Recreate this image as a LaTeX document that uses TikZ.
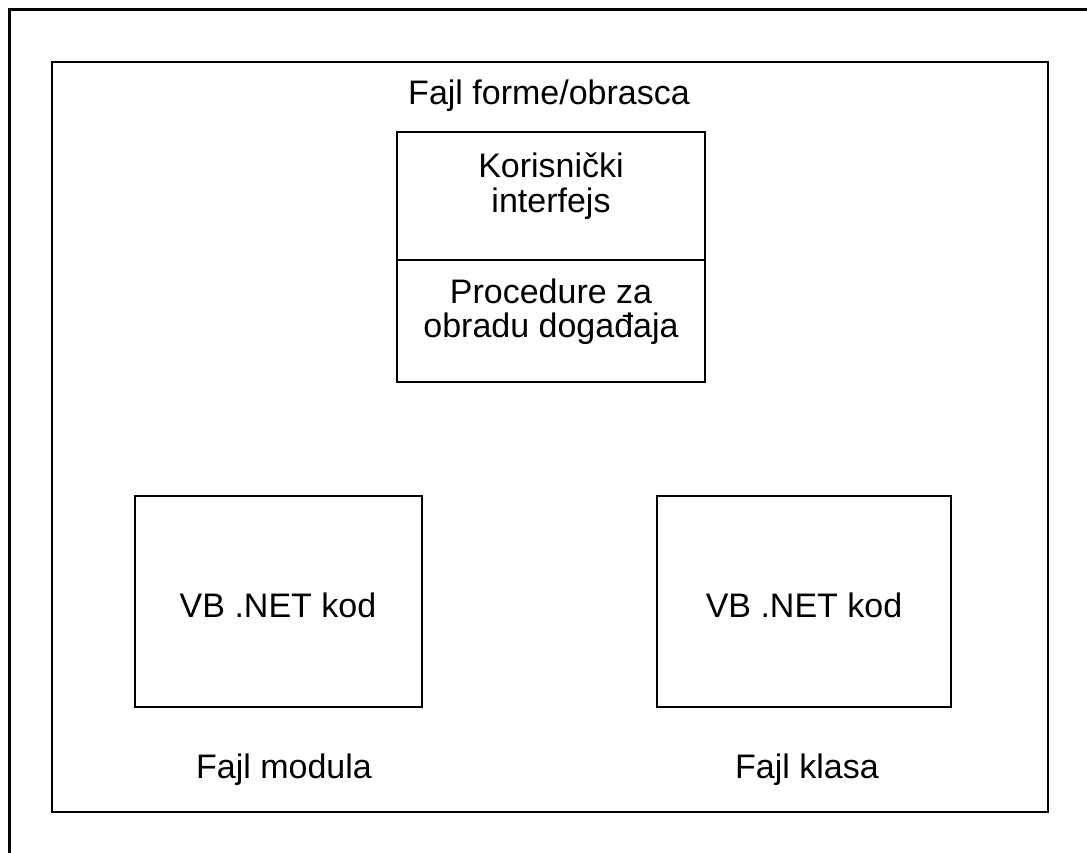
\documentclass[tikz,border=0pt]{standalone}
\usepackage{fontspec}
\setmainfont{Liberation Sans}
\begin{document}
\begin{tikzpicture}[x=1pt,y=-1pt,
  frame/.style={draw=black,line width=3pt},
  panel/.style={draw=black,line width=2pt,line join=miter},
  box/.style={draw=black,line width=1.8pt,rectangle,inner sep=0pt},
  txt/.style={anchor=base,inner sep=0pt,font=\fontsize{34}{35}\selectfont}]
\useasboundingbox (0,0) rectangle (1087,853);
\fill[white] (0,0) rectangle (1087,853);
% outer frame (cut off on right and bottom)
\coordinate (fr) at (1100,10);
\coordinate (ftl) at (9,10);
\coordinate (fb) at (9,870);
\draw[frame] (fr) -- (ftl) -- (fb);
% inner panel
\node[panel,rectangle,inner sep=0pt,minimum width=996pt,minimum height=750pt] (panel) at (550,437) {};
% title
\node[txt] (title) at (549,105) {Fajl forme/obrasca};
% top form boxes
\node[box,minimum width=308pt,minimum height=128pt] (ui) at (551,196) {};
\node[box,minimum width=308pt,minimum height=122pt] (proc) at (551,321) {};
\node[txt] (ui1) at (551,178) {Korisnički};
\node[txt] (ui2) at (551,213) {interfejs};
\node[txt] (pr1) at (551,303) {Procedure za};
\node[txt] (pr2) at (551,337) {obradu događaja};
% module box
\node[box,minimum width=287pt,minimum height=211pt] (mod) at (278.5,601.5) {};
\node[txt] (modc) at (278,617) {VB .NET kod};
\node[txt] (modl) at (284,778) {Fajl modula};
% class box
\node[box,minimum width=294pt,minimum height=211pt] (cls) at (804,601.5) {};
\node[txt] (clsc) at (804,617) {VB .NET kod};
\node[txt] (clsl) at (807,778) {Fajl klasa};
\end{tikzpicture}
\end{document}
